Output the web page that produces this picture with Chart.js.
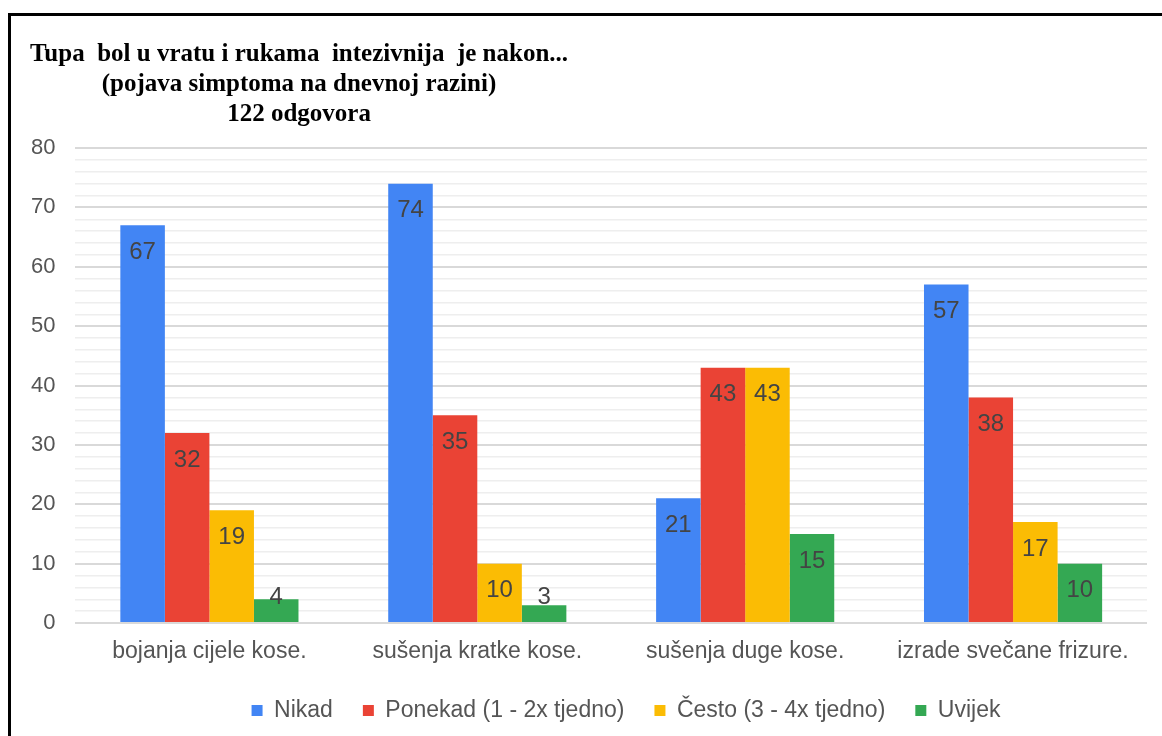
<!DOCTYPE html>
<html lang="hr">
<head>
  <meta charset="UTF-8">
  <title>Tupa bol u vratu i rukama</title>
  <script src="https://cdn.jsdelivr.net/npm/chart.js"></script>
  <style>
    html, body {
      margin: 0;
      padding: 0;
      background: #fff;
      overflow: hidden;
    }
    #frame {
      position: absolute;
      left: 8px;
      top: 13px;
      width: 1200px;
      height: 800px;
      border-left: 3px solid #000;
      border-top: 3px solid #000;
    }
    #title {
      position: absolute;
      left: 29px;
      top: 38px;
      width: 540px;
      text-align: center;
      font-family: "Liberation Serif", "Times New Roman", serif;
      font-weight: bold;
      font-size: 25px;
      line-height: 30px;
      color: #000;
      white-space: pre;
    }
    #chart-container {
      position: absolute;
      left: 0;
      top: 0;
      width: 1162px;
      height: 736px;
    }
  </style>
</head>
<body>
  <div id="frame"></div>
  <div id="chart-container">
    <canvas id="resultChart"></canvas>
  </div>
  <div id="title">Tupa  bol u vratu i rukama  intezivnija  je nakon...
(pojava simptoma na dnevnoj razini)
122 odgovora</div>

  <script>
    const categories = ['bojanja cijele kose.', 'sušenja kratke kose.', 'sušenja duge kose.', 'izrade svečane frizure.'];
    const seriesNames = ['Nikad', 'Ponekad (1 - 2x tjedno)', 'Često (3 - 4x tjedno)', 'Uvijek'];
    const nikad = [67, 74, 21, 57];
    const ponekad = [32, 35, 43, 38];
    const cesto = [19, 10, 43, 17];
    const uvijek = [4, 3, 15, 10];
    const colors = ['#4285f4', '#ea4335', '#fbbc04', '#34a853'];

    const FONT = '"Liberation Sans", Arial, sans-serif';

    // brojke unutar stupaca
    const valueLabels = {
      id: 'valueLabels',
      afterDatasetsDraw(chart) {
        const ctx = chart.ctx;
        ctx.save();
        ctx.font = '24px ' + FONT;
        ctx.fillStyle = '#444';
        ctx.textAlign = 'center';
        ctx.textBaseline = 'middle';
        chart.data.datasets.forEach((ds, i) => {
          chart.getDatasetMeta(i).data.forEach((bar, j) => {
            const y = Math.min(bar.y + 27, bar.base - 25);
            ctx.fillText(String(ds.data[j]), bar.x, y);
          });
        });
        ctx.restore();
      }
    };

    // legenda malo udesno, kao u originalu
    const shiftLegend = {
      id: 'shiftLegend',
      afterLayout(chart) {
        const lg = chart.legend;
        if (!lg) return;
        lg.left += 47;
        lg.right += 47;
      }
    };

    const ctx = document.getElementById('resultChart').getContext('2d');
    new Chart(ctx, {
      type: 'bar',
      data: {
        labels: categories,
        datasets: [nikad, ponekad, cesto, uvijek].map((d, i) => ({
          label: seriesNames[i],
          data: d,
          backgroundColor: colors[i],
          borderWidth: 0,
          categoryPercentage: 0.665,
          barPercentage: 1.0
        }))
      },
      options: {
        responsive: true,
        maintainAspectRatio: false,
        animation: false,
        layout: {
          padding: { top: 148, left: 11, right: 15, bottom: 4 }
        },
        scales: {
          x: {
            grid: { display: false, drawTicks: false },
            border: { display: false },
            afterFit: s => { s.height = 46; },
            ticks: {
              color: '#555',
              font: { family: FONT, size: 23 },
              padding: 15
            }
          },
          y: {
            min: 0,
            max: 80,
            border: { display: false },
            grid: {
              drawTicks: false,
              color: c => (c.tick && c.tick.value % 10 === 0) ? '#d9d9d9' : '#eeeeee',
              lineWidth: c => (c.tick && c.tick.value % 10 === 0) ? 2 : 1.5
            },
            ticks: {
              stepSize: 2,
              autoSkip: false,
              color: '#555',
              font: { family: FONT, size: 22 },
              padding: 20,
              callback: v => (v % 10 === 0 ? v : '')
            }
          }
        },
        plugins: {
          legend: {
            position: 'bottom',
            labels: {
              boxWidth: 11,
              boxHeight: 11,
              padding: 30,
              color: '#555',
              font: { family: FONT, size: 23 }
            }
          },
          title: { display: false },
          tooltip: { enabled: false }
        }
      },
      plugins: [valueLabels, shiftLegend]
    });
  </script>
</body>
</html>
